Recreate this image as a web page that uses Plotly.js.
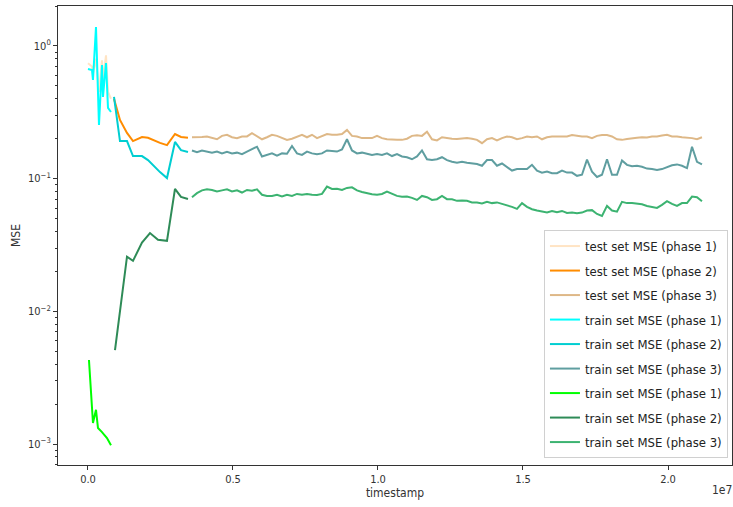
<!DOCTYPE html>
<html>
<head>
<meta charset="utf-8">
<script src="https://cdn.plot.ly/plotly-3.0.1.min.js"></script>
<style>html,body{margin:0;padding:0;background:#fff;}#chart{width:733px;height:507px;}</style>
</head>
<body>
<div id="chart"></div>
<script>
// ---------- data ----------
// phase 1
const p1TestX  = [0, 138000, 172000, 276000, 379000, 483000, 517000, 621000, 690000, 793000];
const p1TestY  = [0.74, 0.70, 0.62, 0.80, 0.45, 0.78, 0.55, 0.85, 0.45, 0.40];
const p1TrainX = [0, 138000, 172000, 276000, 379000, 483000, 517000, 621000, 690000, 793000];
const p1TrainY = [0.671, 0.659, 0.554, 1.39, 0.254, 0.719, 0.413, 0.744, 0.341, 0.318];
const p1Train2X = [34000, 172000, 276000, 345000, 483000, 655000, 793000];
const p1Train2Y = [0.0043, 0.00144, 0.00181, 0.00132, 0.00123, 0.00111, 0.00098];

// phase 2
const p2X      = [897000, 1103000, 1345000, 1552000, 1862000, 2069000, 2483000, 2724000, 3000000, 3207000, 3448000];
const p2TestY  = [0.399, 0.277, 0.221, 0.192, 0.206, 0.203, 0.186, 0.179, 0.217, 0.206, 0.203];
const p2TrainY = [0.413, 0.192, 0.192, 0.148, 0.148, 0.138, 0.112, 0.101, 0.189, 0.164, 0.159];
const p2Train2X = [931000, 1345000, 1552000, 1862000, 2138000, 2414000, 2724000, 3000000, 3207000, 3448000];
const p2Train2Y = [0.0051, 0.0258, 0.0240, 0.0330, 0.0389, 0.0346, 0.0340, 0.0837, 0.0728, 0.0702];

// phase 3 (timestamps in millions)
const p3XMillions = [
  3.586, 3.758, 3.931, 4.103, 4.276, 4.448, 4.621, 4.793, 4.966, 5.138,
  5.310, 5.483, 5.655, 5.828, 6.000, 6.172, 6.345, 6.517, 6.690, 6.862,
  7.034, 7.207, 7.379, 7.552, 7.724, 7.897, 8.069, 8.241, 8.414, 8.586,
  8.759, 8.931, 9.103, 9.276, 9.448, 9.621, 9.793, 9.966, 10.138, 10.310,
  10.483, 10.655, 10.828, 11.000, 11.172, 11.345, 11.517, 11.690, 11.862, 12.034,
  12.207, 12.379, 12.552, 12.724, 12.897, 13.069, 13.241, 13.414, 13.586, 13.759,
  13.931, 14.103, 14.276, 14.448, 14.621, 14.793, 14.966, 15.138, 15.310, 15.483,
  15.655, 15.828, 16.000, 16.172, 16.345, 16.517, 16.690, 16.862, 17.034, 17.207,
  17.379, 17.552, 17.724, 17.897, 18.069, 18.241, 18.414, 18.586, 18.759, 18.931,
  19.103, 19.276, 19.448, 19.621, 19.793, 19.966, 20.138, 20.310, 20.483, 20.655,
  20.828, 21.000, 21.172
];
const p3TestY = [
  0.205,0.205,0.206,0.208,0.202,0.198,0.210,0.214,0.205,0.202,0.208,0.208,0.220,0.210,0.198,0.205,0.214,0.210,0.202,0.196,0.200,0.208,0.214,0.205,0.214,0.202,
  0.208,0.217,0.214,0.214,0.217,0.233,0.210,0.208,0.202,0.202,0.202,0.210,0.202,0.198,0.196,0.196,0.196,0.200,0.210,0.212,0.210,0.226,0.198,0.194,0.205,0.202,
  0.200,0.199,0.200,0.202,0.200,0.196,0.185,0.198,0.202,0.194,0.202,0.208,0.205,0.198,0.202,0.208,0.205,0.208,0.198,0.205,0.208,0.208,0.210,0.208,0.213,0.210,
  0.208,0.208,0.202,0.210,0.213,0.213,0.208,0.198,0.196,0.199,0.202,0.203,0.205,0.204,0.208,0.208,0.211,0.214,0.208,0.208,0.205,0.204,0.202,0.198,0.205
];
const p3TrainY = [
  0.163,0.158,0.163,0.159,0.157,0.160,0.155,0.159,0.155,0.157,0.153,0.160,0.168,0.174,0.147,0.151,0.155,0.149,0.155,0.154,0.176,0.155,0.151,0.160,0.155,0.153,
  0.155,0.163,0.162,0.160,0.166,0.198,0.163,0.155,0.157,0.153,0.151,0.153,0.151,0.155,0.148,0.153,0.147,0.145,0.140,0.147,0.163,0.140,0.138,0.140,0.145,0.138,
  0.134,0.132,0.134,0.132,0.130,0.129,0.125,0.138,0.138,0.125,0.130,0.123,0.115,0.118,0.118,0.118,0.127,0.115,0.111,0.113,0.110,0.110,0.115,0.111,0.111,0.105,
  0.107,0.139,0.113,0.103,0.107,0.140,0.107,0.107,0.137,0.127,0.124,0.125,0.123,0.119,0.118,0.116,0.118,0.122,0.126,0.128,0.125,0.120,0.174,0.134,0.128
];
const p3Train2Y = [
  0.0725,0.0777,0.0816,0.0830,0.0822,0.0800,0.0816,0.0830,0.0800,0.0816,0.0786,0.0822,0.0810,0.0830,0.0756,0.0741,0.0741,0.0756,0.0733,0.0756,0.0741,0.0767,0.0756,0.0767,0.0756,0.0752,
  0.0767,0.0871,0.0836,0.0840,0.0822,0.0851,0.0860,0.0816,0.0794,0.0777,0.0764,0.0756,0.0767,0.0800,0.0767,0.0741,0.0729,0.0733,0.0716,0.0691,0.0741,0.0725,0.0691,0.0700,0.0741,0.0700,
  0.0700,0.0680,0.0684,0.0680,0.0662,0.0662,0.0651,0.0668,0.0654,0.0662,0.0645,0.0631,0.0613,0.0592,0.0654,0.0613,0.0588,0.0575,0.0568,0.0555,0.0571,0.0558,0.0571,0.0552,0.0555,0.0549,
  0.0555,0.0575,0.0579,0.0542,0.0524,0.0623,0.0575,0.0564,0.0668,0.0654,0.0654,0.0645,0.0641,0.0623,0.0610,0.0602,0.0634,0.0676,0.0645,0.0623,0.0654,0.0654,0.0733,0.0725,0.0676
];

const seriesNames = [
  'test set MSE (phase 1)', 'test set MSE (phase 2)', 'test set MSE (phase 3)',
  'train set MSE (phase 1)', 'train set MSE (phase 2)', 'train set MSE (phase 3)',
  'train set MSE (phase 1)', 'train set MSE (phase 2)', 'train set MSE (phase 3)'
];
const seriesColors = ['#ffe4c4', '#ff8c00', '#deb887', '#00ffff', '#00ced1', '#5f9ea0', '#00ff00', '#2e8b57', '#3cb371'];

const xTickVals = [0, 5e6, 1e7, 1.5e7, 2e7];
const xTickText = ['0.0', '0.5', '1.0', '1.5', '2.0'];
const yTickVals = [1e-3, 1e-2, 1e-1, 1];
const yTickText = ['10<sup>\u22123</sup>', '10<sup>\u22122</sup>', '10<sup>\u22121</sup>', '10<sup>0</sup>'];

// ---------- chart ----------
const p3X = p3XMillions.map(v => v * 1e6);
const xs = [p1TestX, p2X, p3X, p1TrainX, p2X, p3X, p1Train2X, p2Train2X, p3X];
const ys = [p1TestY, p2TestY, p3TestY, p1TrainY, p2TrainY, p3TrainY, p1Train2Y, p2Train2Y, p3Train2Y];

const traces = seriesNames.map((name, i) => ({
  type: 'scatter', mode: 'lines', name: name,
  x: xs[i], y: ys[i],
  legendgroup: 'g' + i,
  line: {color: seriesColors[i], width: 2}
}));

const minorVals = [];
for (let e = -4; e <= 0; e++) for (let m = 2; m <= 9; m++) minorVals.push(m * Math.pow(10, e));

const FONT = '"DejaVu Sans Condensed", "DejaVu Sans", sans-serif';
const layout = {
  width: 733, height: 507,
  margin: {l: 58, r: 1, t: 6, b: 42},
  paper_bgcolor: '#ffffff', plot_bgcolor: '#ffffff',
  font: {family: FONT, size: 11, color: '#333'},
  showlegend: true,
  legend: {
    x: 0.994, y: 0.015, xanchor: 'right', yanchor: 'bottom',
    bgcolor: 'rgba(255,255,255,0.85)', bordercolor: '#d0d0d0', borderwidth: 1,
    font: {family: FONT, size: 13, color: '#222'},
    tracegroupgap: 4.6, itemwidth: 30
  },
  xaxis: {
    range: [-1.034e6, 2.2207e7],
    tickmode: 'array', tickvals: xTickVals, ticktext: xTickText,
    ticks: 'outside', ticklen: 4, tickcolor: '#333',
    showline: true, mirror: true, linecolor: '#333', linewidth: 1,
    showgrid: false, zeroline: false,
    title: {text: 'timestamp', font: {family: FONT, size: 12, color: '#333'}, standoff: 2}
  },
  yaxis: {
    type: 'log', range: [-3.158, 0.301],
    tickmode: 'array', tickvals: yTickVals, ticktext: yTickText,
    ticks: 'outside', ticklen: 4, tickcolor: '#333',
    minor: {tickmode: 'array', tickvals: minorVals, ticks: 'outside', ticklen: 2, tickcolor: '#333', showgrid: false},
    showline: true, mirror: true, linecolor: '#333', linewidth: 1,
    showgrid: false, zeroline: false,
    title: {text: 'MSE', font: {family: FONT, size: 12, color: '#333'}, standoff: 4}
  },
  annotations: [{
    text: '1e7', xref: 'paper', yref: 'paper', x: 0.985, y: -0.055,
    xanchor: 'center', yanchor: 'middle', showarrow: false,
    font: {family: FONT, size: 12, color: '#333'}
  }]
};

Plotly.newPlot('chart', traces, layout, {displayModeBar: false, staticPlot: true});
</script>
</body>
</html>
